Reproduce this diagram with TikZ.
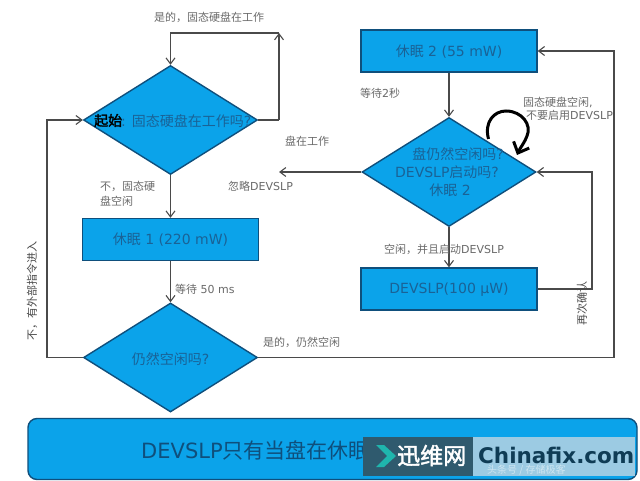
\documentclass[tikz,border=0pt]{standalone}
\usepackage{fontspec}
\setmainfont{DejaVu Sans}
\newfontfamily\cjk{Noto Sans CJK SC}
\newfontfamily\cjkb{Noto Sans CJK SC}[FakeBold=2]
\newcommand{\cj}[1]{{\cjk #1}}
\usetikzlibrary{arrows.meta,shapes.geometric}
\definecolor{fillblue}{HTML}{0BA3EA}
\definecolor{edgeblue}{HTML}{0F4F7C}
\definecolor{inktext}{HTML}{1A6296}
\definecolor{linegray}{HTML}{4A4A4A}
\definecolor{labelgray}{HTML}{6A6A6A}
\definecolor{wmdark}{HTML}{2F5A6E}
\definecolor{wmlight}{HTML}{9CCBE3}
\definecolor{wmteal}{HTML}{1FB5AD}
\definecolor{wmink}{HTML}{0F3C55}
\tikzset{
  x=1pt,y=-1pt,
  dec/.style={diamond,draw=edgeblue,line width=1.4pt,fill=fillblue,inner sep=0pt,minimum width=174pt,minimum height=109pt},
  boxn/.style={rectangle,draw=edgeblue,line width=1.4pt,fill=fillblue,minimum width=176pt,minimum height=42pt,inner sep=0pt},
  body/.style={text=inktext,font=\fontsize{14}{18}\selectfont,align=center,inner sep=0pt},
  lab/.style={text=labelgray,font=\fontsize{11}{13}\selectfont,align=left,inner sep=0pt},
  conn/.style={draw=linegray,line width=1.3pt,-{Straight Barb[length=6pt,width=9pt,line width=1.1pt]}},
  plain/.style={draw=linegray,line width=1.3pt},
}
\begin{document}
\begin{tikzpicture}
\useasboundingbox (0,0) rectangle (640,481);
\fill[white] (0,0) rectangle (640,481);
% coordinates
\coordinate (hubR) at (279,120);
\coordinate (topR) at (279,33);
\coordinate (topL) at (170.5,33);
\coordinate (join) at (279,172);
\coordinate (leftB) at (47,357.5);
\coordinate (leftT) at (47,120);
\coordinate (rightB) at (614,357.5);
\coordinate (rightT) at (614,51);
\coordinate (midB) at (592,289);
\coordinate (midT) at (592,172);
% nodes
\node[dec] (d1) at (170.5,120) {};
\node[boxn] (r1) at (170.5,239.5) {};
\node[dec] (d2) at (170.5,357.5) {};
\node[boxn] (r2) at (449,51) {};
\node[dec] (d3) at (449,172) {};
\node[boxn] (r3) at (449,289) {};
% node texts
\node[body,anchor=west] (t1) at (93,121) {\phantom{\cj{起始}}: \cj{固态硬盘在工作吗}?};
\node[text=black,font=\fontsize{14}{18}\cjkb,inner sep=0pt,anchor=west] (t1b) at (94,120.5) {起始};
\node[body] (tr1) at (170.5,240) {\cj{休眠} 1 (220 mW)};
\node[body] (td2) at (170.5,359) {\cj{仍然空闲吗}?};
\node[body] (tr2) at (449,52) {\cj{休眠} 2 (55 mW)};
\node[body,align=center] (td3) at (450,172) {\hspace{16pt}\cj{盘仍然空闲吗}?\\\hspace{-6pt}DEVSLP\cj{启动吗}?\\\cj{休眠} 2};
\node[body] (tr3) at (449,290) {DEVSLP(100 µW)};
% connectors
\draw[plain] (d1.east) -- (hubR);
\draw[conn] (hubR) -- (topR);
\draw[conn] (topR) -- (topL) -- (d1.north);
\draw[conn] (d3.west) -- (join);
\draw[conn] (d1.south) -- (r1.north);
\draw[conn] (r1.south) -- (d2.north);
\draw[conn] (d2.west) -- (leftB) -- (leftT) -- (d1.west);
\draw[conn] (d2.east) -- (rightB) -- (rightT) -- (r2.east);
\draw[conn] (r2.south) -- (d3.north);
\draw[conn] (d3.south) -- (r3.north);
\draw[conn] (r3.east) -- (midB) -- (midT) -- (d3.east);
% thick loop
\coordinate (loopA) at (488.5,139);
\coordinate (loopB) at (517,155);
\draw[black,line width=3pt,-{Straight Barb[length=9pt,width=17pt,line width=3pt]}]
  (loopA) .. controls (484,122) and (494,111) .. (506,111)
  .. controls (522,111) and (532,125) .. (527,136)
  .. controls (525,142) and (520,148) .. (loopB);
% labels
\node[lab,anchor=west] (l1) at (154,17) {\cj{是的，固态硬盘在工作}};
\node[lab,anchor=west] (l2) at (285,141) {\cj{盘在工作}};
\node[lab,anchor=west] (l3) at (228,186) {\cj{忽略}DEVSLP};
\node[lab,anchor=north west,font=\fontsize{11}{15}\selectfont] (l4) at (100,181) {\cj{不，固态硬}\\\cj{盘空闲}};
\node[lab,anchor=west] (l5) at (360,93) {\cj{等待}2\cj{秒}};
\node[lab,anchor=north west] (l6) at (523,97) {\cj{固态硬盘空闲},\\\hspace{3pt}\cj{不要启用}DEVSLP};
\node[lab,anchor=west] (l7) at (384,249) {\cj{空闲，并且启动}DEVSLP};
\node[lab,anchor=west] (l8) at (175,289) {\cj{等待} 50 ms};
\node[lab,anchor=west] (l9) at (263,342) {\cj{是的，仍然空闲}};
\node[lab,rotate=90,text=labelgray!70!black] (l10) at (32,291) {\cj{不，有外部指令进入}};
\node[lab,rotate=90,text=labelgray!70!black] (l11) at (582,303) {\cj{再次确认}};
% banner
\node[draw=edgeblue,line width=1.4pt,fill=fillblue,rounded corners=9pt,minimum width=609pt,minimum height=61pt,inner sep=0pt] (banner) at (332.5,449) {};
\node[text=edgeblue,font=\fontsize{21}{25}\selectfont,anchor=west,inner sep=0pt] (bt) at (141,450) {DEVSLP\cj{只有当盘在休眠}};
% watermark
\fill[wmlight] (473,437) rectangle (635,476);
\fill[wmdark] (363,437) rectangle (473,476);
\fill[wmteal] (376,445) -- (384,445) -- (396,456) -- (384,467) -- (376,467) -- (387,456) -- cycle;
\node[text=white,font=\fontsize{23}{26}\cjkb,anchor=west,inner sep=0pt] (wm1) at (397,455.5) {迅维网};
\node[text=wmink,font=\fontsize{21.5}{24}\bfseries\selectfont,anchor=west,inner sep=0pt] (wm2) at (478,455) {Chinafix.com};
\node[text=white,opacity=.5,font=\fontsize{10}{12}\cjk,anchor=west,inner sep=0pt] (wm3) at (487,470) {头条号 / 存储极客};
\end{tikzpicture}
\end{document}
